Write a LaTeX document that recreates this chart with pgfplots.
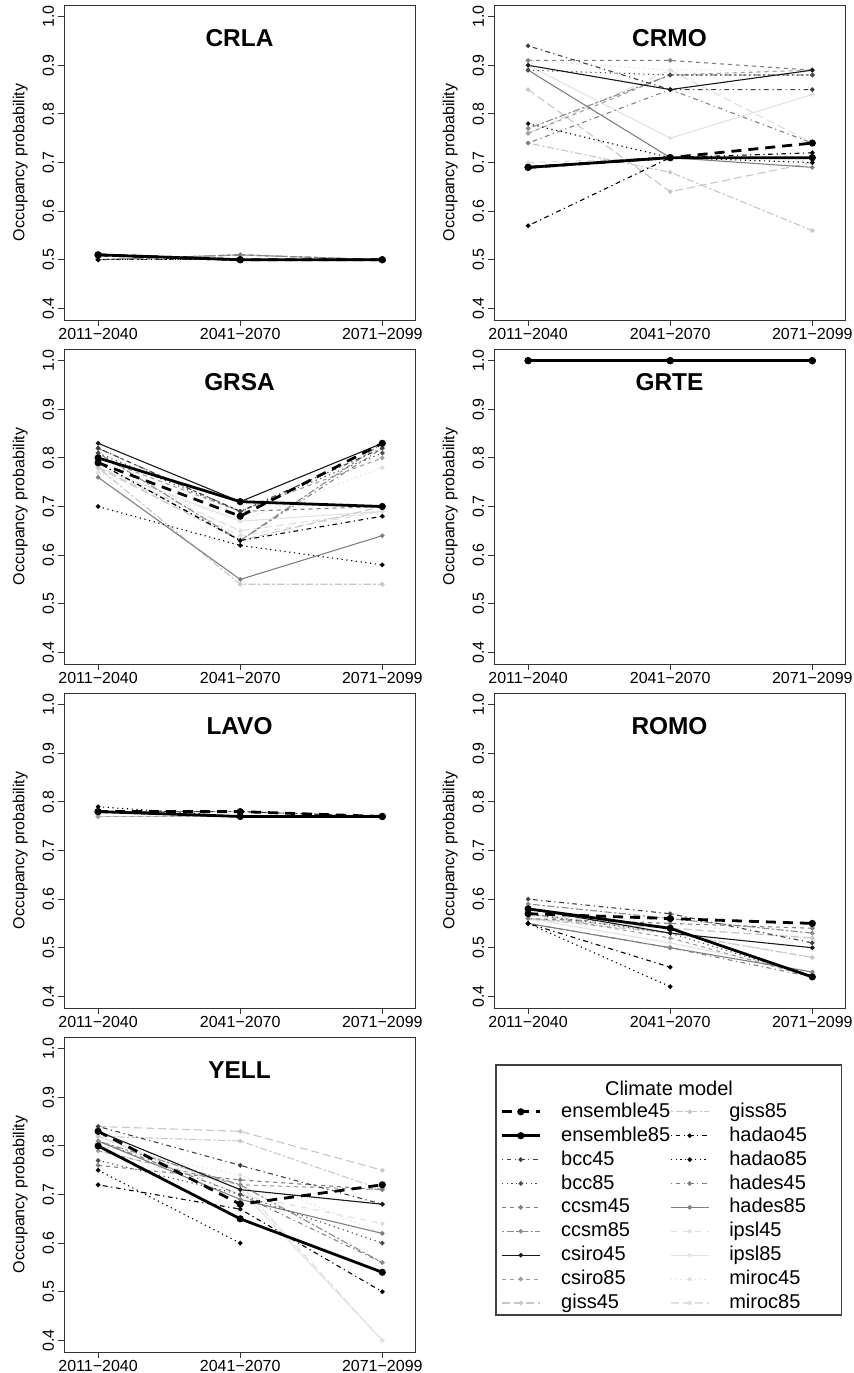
\documentclass[border=0pt]{standalone}
\usepackage{fontspec}
\setmainfont{Liberation Sans}
\usepackage{pgfplots}
\usepackage{pgfplotstable}
\pgfplotsset{compat=1.18}

% columns: x ens45 ens85 then the 16 climate models
\pgfplotstableread{
x e45  e85  bcc45 bcc85 ccsm45 ccsm85 csiro45 csiro85 giss45 giss85 hadao45 hadao85 hades45 hades85 ipsl45 ipsl85 miroc45 miroc85
1 0.51 0.51 0.50  0.50  0.50   0.50   0.51    0.50    0.50   0.50   0.51    0.50    0.50    0.51    0.50   0.50   0.50    0.50
2 0.50 0.50 0.50  0.50  0.51   0.51   0.50    0.50    0.51   0.51   0.50    0.50    0.50    0.50    0.51   0.50   0.51    0.50
3 0.50 0.50 0.50  0.50  0.50   0.50   0.50    0.50    0.50   0.50   0.50    0.50    0.50    0.50    0.50   0.50   0.50    0.50
}\crla
\pgfplotstableread{
x e45  e85  bcc45 bcc85 ccsm45 ccsm85 csiro45 csiro85 giss45 giss85 hadao45 hadao85 hades45 hades85 ipsl45 ipsl85 miroc45 miroc85
1 0.69 0.69 0.94  0.89  0.91   0.77   0.90    0.76    0.85   0.74   0.57    0.78    0.74    0.89    0.70   0.90   0.91    0.76
2 0.71 0.71 0.85  0.88  0.91   0.88   0.85    0.88    0.64   0.68   0.71    0.71    0.85    0.71    0.71   0.75   0.89    0.89
3 0.74 0.71 0.85  0.88  0.89   0.88   0.89    0.89    0.70   0.56   0.72    0.70    0.74    0.69    0.71   0.84   0.89    0.74
}\crmo
\pgfplotstableread{
x e45  e85  bcc45 bcc85 ccsm45 ccsm85 csiro45 csiro85 giss45 giss85 hadao45 hadao85 hades45 hades85 ipsl45 ipsl85 miroc45 miroc85
1 0.79 0.80 0.82  0.81  0.82   0.81   0.83    0.80    0.78   0.78   0.79    0.70    0.79    0.76    0.78   0.78   0.77    0.78
2 0.68 0.71 0.69  0.69  0.69   0.63   0.71    0.69    0.63   0.54   0.63    0.62    0.63    0.55    0.64   0.67   0.67    0.65
3 0.83 0.70 0.82  0.81  0.70   0.83   0.83    0.80    0.70   0.54   0.68    0.58    0.82    0.64    0.69   0.69   0.78    0.69
}\grsa
\pgfplotstableread{
x e45  e85  bcc45 bcc85 ccsm45 ccsm85 csiro45 csiro85 giss45 giss85 hadao45 hadao85 hades45 hades85 ipsl45 ipsl85 miroc45 miroc85
1 1.00 1.00 1.00  1.00  1.00   1.00   1.00    1.00    1.00   1.00   1.00    1.00    1.00    1.00    1.00   1.00   1.00    1.00
2 1.00 1.00 1.00  1.00  1.00   1.00   1.00    1.00    1.00   1.00   1.00    1.00    1.00    1.00    1.00   1.00   1.00    1.00
3 1.00 1.00 1.00  1.00  1.00   1.00   1.00    1.00    1.00   1.00   1.00    1.00    1.00    1.00    1.00   1.00   1.00    1.00
}\grte
\pgfplotstableread{
x e45  e85  bcc45 bcc85 ccsm45 ccsm85 csiro45 csiro85 giss45 giss85 hadao45 hadao85 hades45 hades85 ipsl45 ipsl85 miroc45 miroc85
1 0.78 0.78 0.78  0.78  0.78   0.78   0.78    0.77    0.77   0.77   0.78    0.79    0.78    0.78    0.77   0.77   0.77    0.77
2 0.78 0.77 0.78  0.77  0.77   0.78   0.77    0.77    0.77   0.77   0.77    0.77    0.77    0.77    0.77   0.77   0.77    0.77
3 0.77 0.77 0.77  0.77  0.77   0.77   0.77    0.77    0.77   0.77   0.77    0.77    0.77    0.77    0.77   0.77   0.77    0.77
}\lavo
\pgfplotstableread{
x e45  e85  bcc45 bcc85 ccsm45 ccsm85 csiro45 csiro85 giss45 giss85 hadao45 hadao85 hades45 hades85 ipsl45 ipsl85 miroc45 miroc85
1 0.57 0.58 0.60  0.57  0.56   0.59   0.58    0.57    0.56   0.56   0.55    0.55    0.55    0.55    0.57   0.56   0.58    0.57
2 0.56 0.54 0.57  0.53  0.55   0.56   0.53    0.52    0.54   0.53   0.46    0.42    0.50    0.50    0.54   0.51   0.55    0.53
3 0.55 0.44 0.51  0.44  0.54   0.53   0.50    0.44    0.52   0.48   nan     nan     0.44    0.45    0.52   0.45   0.52    0.48
}\romo
\pgfplotstableread{
x e45  e85  bcc45 bcc85 ccsm45 ccsm85 csiro45 csiro85 giss45 giss85 hadao45 hadao85 hades45 hades85 ipsl45 ipsl85 miroc45 miroc85
1 0.83 0.80 0.84  0.77  0.76   0.81   0.83    0.79    0.84   0.82   0.72    0.75    0.81    0.81    0.82   0.82   0.80    0.79
2 0.68 0.65 0.76  0.70  0.73   0.72   0.71    0.72    0.83   0.81   0.67    0.60    0.70    0.69    0.70   0.71   0.74    0.72
3 0.72 0.54 0.68  0.60  0.71   0.56   0.68    0.71    0.75   0.71   0.50    nan     0.56    0.62    0.64   0.40   0.62    0.40
}\yell

\pgfplotsset{
  thin/.style={line width=0.55pt, mark=*, mark size=0.85pt, mark options={solid}},
  s e45/.style={black, line width=1.4pt, dash pattern=on 5pt off 3.5pt, mark=*, mark size=1.05pt, mark options={solid}},
  s e85/.style={black, line width=1.4pt, mark=*, mark size=1.05pt},
  s bcc45/.style={thin, black!75, dash pattern=on 0.6pt off 1.8pt on 2.4pt off 1.8pt},
  s bcc85/.style={thin, black!70, dash pattern=on 0.6pt off 1.8pt},
  s ccsm45/.style={thin, black!50, dash pattern=on 2pt off 2pt},
  s ccsm85/.style={thin, black!45, dash pattern=on 1.2pt off 1.2pt on 3.6pt off 1.2pt},
  s csiro45/.style={thin, black!90},
  s csiro85/.style={thin, black!38, dash pattern=on 2pt off 2pt},
  s giss45/.style={thin, black!22, dash pattern=on 4pt off 2pt},
  s giss85/.style={thin, black!22, dash pattern=on 1.2pt off 1.2pt on 3.6pt off 1.2pt},
  s hadao45/.style={thin, black, dash pattern=on 0.6pt off 1.8pt on 2.4pt off 1.8pt},
  s hadao85/.style={thin, black, dash pattern=on 0.6pt off 1.8pt},
  s hades45/.style={thin, black!50, dash pattern=on 0.6pt off 1.8pt on 2.4pt off 1.8pt},
  s hades85/.style={thin, black!50},
  s ipsl45/.style={thin, black!13, dash pattern=on 3pt off 3pt},
  s ipsl85/.style={thin, black!11},
  s miroc45/.style={thin, black!13, dash pattern=on 0.6pt off 1.8pt},
  s miroc85/.style={thin, black!13, dash pattern=on 4pt off 2pt},
  panel/.style={
    anchor=south west, scale only axis, width=175.5pt, height=157.5pt,
    xmin=0.76, xmax=3.23, ymin=0.376, ymax=1.024,
    xtick={1,2,3}, xticklabels={2011−2040,2041−2070,2071−2099},
    ytick={0.4,0.5,0.6,0.7,0.8,0.9,1.0},
    yticklabels={0.4,0.5,0.6,0.7,0.8,0.9,1.0},
    xtick pos=bottom, ytick pos=left, tick align=outside, major tick length=3pt,
    tick style={black!80, line width=0.5pt},
    axis line style={black!80, line width=0.5pt},
    ticklabel style={font=\fontsize{8}{9.6}\selectfont},
    yticklabel style={rotate=90, anchor=south},
    xticklabel shift=-2.5pt, yticklabel shift=-1.5pt,
    ylabel={Occupancy probability},
    ylabel style={at={(axis description cs:-0.125,0.5)}, anchor=center,
      font=\fontsize{8}{9.6}\selectfont},
    unbounded coords=jump, clip=false,
  },
}

\newcommand\allseries[1]{%
  \addplot[s miroc85] table[x=x,y=miroc85]{#1};
  \addplot[s miroc45] table[x=x,y=miroc45]{#1};
  \addplot[s ipsl85] table[x=x,y=ipsl85]{#1};
  \addplot[s ipsl45] table[x=x,y=ipsl45]{#1};
  \addplot[s giss85] table[x=x,y=giss85]{#1};
  \addplot[s giss45] table[x=x,y=giss45]{#1};
  \addplot[s csiro85] table[x=x,y=csiro85]{#1};
  \addplot[s hades45] table[x=x,y=hades45]{#1};
  \addplot[s hades85] table[x=x,y=hades85]{#1};
  \addplot[s ccsm85] table[x=x,y=ccsm85]{#1};
  \addplot[s ccsm45] table[x=x,y=ccsm45]{#1};
  \addplot[s bcc85] table[x=x,y=bcc85]{#1};
  \addplot[s bcc45] table[x=x,y=bcc45]{#1};
  \addplot[s csiro45] table[x=x,y=csiro45]{#1};
  \addplot[s hadao85] table[x=x,y=hadao85]{#1};
  \addplot[s hadao45] table[x=x,y=hadao45]{#1};
  \addplot[s e45] table[x=x,y=e45]{#1};
  \addplot[s e85] table[x=x,y=e85]{#1};
}
\newcommand\ptitle[1]{\node[font=\fontsize{12.2}{14}\selectfont\bfseries]
  at (axis description cs:0.5,0.895) {#1};}

\begin{document}
\begin{tikzpicture}
\useasboundingbox (0pt,0pt) rectangle (427pt,-686.5pt);

\begin{axis}[panel, at={(32pt,-160pt)}]
\allseries{\crla}
\ptitle{CRLA}
\end{axis}
\begin{axis}[panel, at={(247pt,-160pt)}]
\allseries{\crmo}
\ptitle{CRMO}
\end{axis}
\begin{axis}[panel, at={(32pt,-332pt)}]
\allseries{\grsa}
\ptitle{GRSA}
\end{axis}
\begin{axis}[panel, at={(247pt,-332pt)}]
\allseries{\grte}
\ptitle{GRTE}
\end{axis}
\begin{axis}[panel, at={(32pt,-504pt)}]
\allseries{\lavo}
\ptitle{LAVO}
\end{axis}
\begin{axis}[panel, at={(247pt,-504pt)}]
\allseries{\romo}
\ptitle{ROMO}
\end{axis}
\begin{axis}[panel, at={(32pt,-676pt)}]
\allseries{\yell}
\ptitle{YELL}
\end{axis}

% legend panel
\begin{axis}[at={(247pt,-676pt)}, anchor=south west, scale only axis,
  width=175.5pt, height=157.5pt, hide axis,
  xmin=0, xmax=1, ymin=0, ymax=1, clip=false,
  legend columns=2, legend cell align=left,
  legend image code/.code={\draw[mark repeat=2,mark phase=2,#1]
    plot coordinates {(0pt,0pt) (9.5pt,0pt) (19pt,0pt)};},
  legend style={draw=none, fill=none, inner sep=0pt,
    at={(axis description cs:0.0171,0.794)}, anchor=north west,
    font=\fontsize{10}{12}\selectfont,
    nodes={inner sep=0pt, text height=7.5pt, text depth=2pt},
    row sep=2.45pt,
    /tikz/every odd column/.append style={column sep=10pt},
    /tikz/every even column/.append style={column sep=0pt}},
]
\addlegendimage{s e45}\addlegendentry{ensemble45}
\addlegendimage{s giss85}\addlegendentry{giss85}
\addlegendimage{s e85}\addlegendentry{ensemble85}
\addlegendimage{s hadao45}\addlegendentry{hadao45}
\addlegendimage{s bcc45}\addlegendentry{bcc45}
\addlegendimage{s hadao85}\addlegendentry{hadao85}
\addlegendimage{s bcc85}\addlegendentry{bcc85}
\addlegendimage{s hades45}\addlegendentry{hades45}
\addlegendimage{s ccsm45}\addlegendentry{ccsm45}
\addlegendimage{s hades85}\addlegendentry{hades85}
\addlegendimage{s ccsm85}\addlegendentry{ccsm85}
\addlegendimage{s ipsl45}\addlegendentry{ipsl45}
\addlegendimage{s csiro45}\addlegendentry{csiro45}
\addlegendimage{s ipsl85}\addlegendentry{ipsl85}
\addlegendimage{s csiro85}\addlegendentry{csiro85}
\addlegendimage{s miroc45}\addlegendentry{miroc45}
\addlegendimage{s giss45}\addlegendentry{giss45}
\addlegendimage{s miroc85}\addlegendentry{miroc85}
\draw[black!75, line width=0.6pt] (axis description cs:0.0057,0.1175)
  rectangle (axis description cs:0.991,0.911);
\node[font=\fontsize{10}{12}\selectfont] at (axis description cs:0.4986,0.838)
  {Climate model};
\end{axis}
\end{tikzpicture}
\end{document}
